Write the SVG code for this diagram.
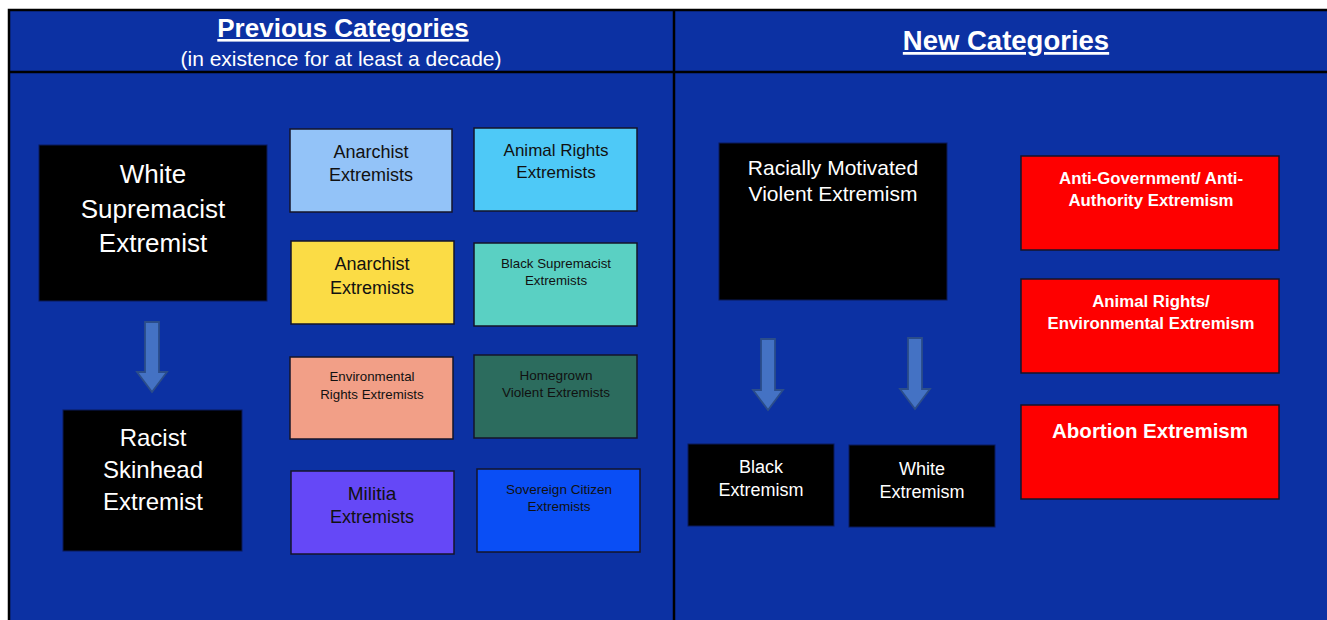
<svg xmlns="http://www.w3.org/2000/svg" width="1327" height="620" viewBox="0 0 1327 620">
<style>
text{font-family:"Liberation Sans",Arial,sans-serif;text-anchor:middle}
.box{stroke:#14142a;stroke-width:1.5}
.blk{fill:#000;stroke:#0a1a5a;stroke-width:1}
.red{fill:#fe0000;stroke:#14142a;stroke-width:1.5}
.w{fill:#fff}
.d{fill:#111}
.rb{fill:#fff;font-weight:bold}
.arr{fill:#4472c4;stroke:#2b4d8a;stroke-width:1.8}
.hdr{fill:#fff;font-weight:bold;text-decoration:underline}
</style>
<rect x="0" y="0" width="1327" height="620" fill="#fff"/>
<rect x="9" y="10" width="1330" height="620" fill="#0c31a3" stroke="#000" stroke-width="2.5"/>
<line x1="9" y1="72" x2="1327" y2="72" stroke="#000" stroke-width="2.5"/>
<line x1="674" y1="10" x2="674" y2="620" stroke="#000" stroke-width="2.5"/>
<g id="header">
<text class="hdr" x="343" y="37" font-size="26">Previous Categories</text>
<text class="w" x="341" y="66" font-size="21">(in existence for at least a decade)</text>
<text class="hdr" x="1006" y="50" font-size="27.5">New Categories</text>
</g>
<g id="connectors">
<path class="arr" d="M145,322 H159 V372 H167 L152,392 L137,372 H145 Z"/>
<path class="arr" d="M761,339 H775 V390 H783 L768,410 L753,390 H761 Z"/>
<path class="arr" d="M908,338 H922 V389 H930 L915,409 L900,389 H908 Z"/>
</g>
<g id="white-supremacist">
<rect class="blk" x="39" y="145" width="228" height="156"/>
<text class="w" font-size="26" x="153" y="183">White</text>
<text class="w" font-size="26" x="153" y="218">Supremacist</text>
<text class="w" font-size="26" x="153" y="252">Extremist</text>
</g>
<g id="racist-skinhead">
<rect class="blk" x="63" y="410" width="179" height="141"/>
<text class="w" font-size="24" x="153" y="446">Racist</text>
<text class="w" font-size="24" x="153" y="478">Skinhead</text>
<text class="w" font-size="24" x="153" y="510">Extremist</text>
</g>
<g id="anarchist-1">
<rect class="box" fill="#93c3f8" x="290" y="129" width="162" height="83"/>
<text class="d" font-size="18" x="371" y="158">Anarchist</text>
<text class="d" font-size="18" x="371" y="181">Extremists</text>
</g>
<g id="animal-rights">
<rect class="box" fill="#4ec9f7" x="474" y="128" width="163" height="83"/>
<text class="d" font-size="17" x="556" y="156">Animal Rights</text>
<text class="d" font-size="17" x="556" y="178">Extremists</text>
</g>
<g id="anarchist-2">
<rect class="box" fill="#fbdc45" x="291" y="241" width="163" height="83"/>
<text class="d" font-size="18" x="372" y="270">Anarchist</text>
<text class="d" font-size="18" x="372" y="294">Extremists</text>
</g>
<g id="black-supremacist">
<rect class="box" fill="#5ad0c3" x="474" y="243" width="163" height="83"/>
<text class="d" font-size="13.3" x="556" y="268">Black Supremacist</text>
<text class="d" font-size="13.3" x="556" y="285">Extremists</text>
</g>
<g id="environmental-rights">
<rect class="box" fill="#f29f87" x="290" y="357" width="163" height="82"/>
<text class="d" font-size="13.3" x="372" y="381">Environmental</text>
<text class="d" font-size="13.3" x="372" y="399">Rights Extremists</text>
</g>
<g id="homegrown">
<rect class="box" fill="#2c6c5e" x="474" y="355" width="163" height="83"/>
<text class="d" font-size="13.5" x="556" y="380">Homegrown</text>
<text class="d" font-size="13.5" x="556" y="397">Violent Extremists</text>
</g>
<g id="militia">
<rect class="box" fill="#6548f7" x="291" y="471" width="163" height="83"/>
<text class="d" font-size="19" x="372" y="500">Militia</text>
<text class="d" font-size="18" x="372" y="523">Extremists</text>
</g>
<g id="sovereign-citizen">
<rect class="box" fill="#0a4ef5" x="477" y="469" width="163" height="83"/>
<text class="d" font-size="13.5" x="559" y="494">Sovereign Citizen</text>
<text class="d" font-size="13.5" x="559" y="511">Extremists</text>
</g>
<g id="racially-motivated">
<rect class="blk" x="719" y="143" width="228" height="157"/>
<text class="w" font-size="21" x="833" y="175">Racially Motivated</text>
<text class="w" font-size="21" x="833" y="201">Violent Extremism</text>
</g>
<g id="black-extremism">
<rect class="blk" x="688" y="444" width="146" height="82"/>
<text class="w" font-size="18" x="761" y="473">Black</text>
<text class="w" font-size="18" x="761" y="496">Extremism</text>
</g>
<g id="white-extremism">
<rect class="blk" x="849" y="445" width="146" height="82"/>
<text class="w" font-size="18" x="922" y="475">White</text>
<text class="w" font-size="18" x="922" y="498">Extremism</text>
</g>
<g id="anti-government">
<rect class="red" x="1021" y="156" width="258" height="94"/>
<text class="rb" font-size="16.8" x="1151" y="184">Anti-Government/ Anti-</text>
<text class="rb" font-size="16.8" x="1151" y="206">Authority Extremism</text>
</g>
<g id="animal-environmental">
<rect class="red" x="1021" y="279" width="258" height="94"/>
<text class="rb" font-size="16.8" x="1151" y="307">Animal Rights/</text>
<text class="rb" font-size="16.8" x="1151" y="329">Environmental Extremism</text>
</g>
<g id="abortion">
<rect class="red" x="1021" y="405" width="258" height="94"/>
<text class="rb" font-size="20.5" x="1150" y="438">Abortion Extremism</text>
</g>
</svg>
